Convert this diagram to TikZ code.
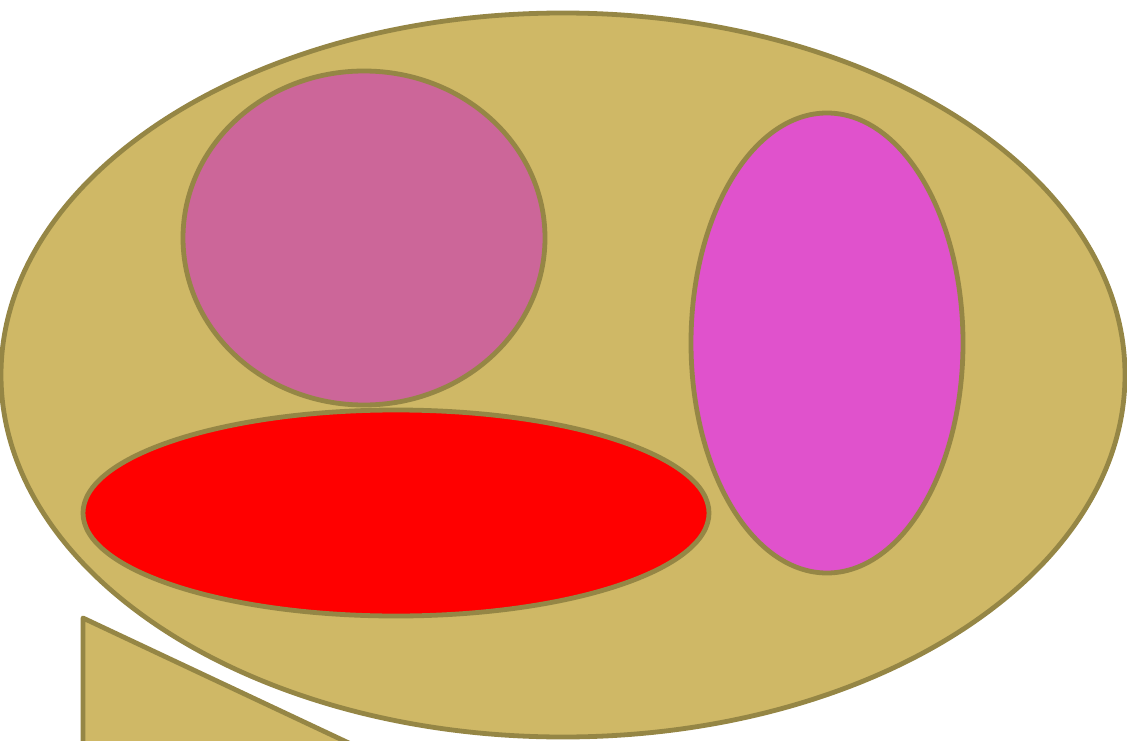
\documentclass[tikz,border=0pt]{standalone}
\usepackage{tikz}

\definecolor{tan}{HTML}{CFB866}
\definecolor{rim}{HTML}{958645}
\definecolor{rose}{HTML}{CC6699}
\definecolor{orchid}{HTML}{E052CC}

\begin{document}
\begin{tikzpicture}[
  x=1pt, y=-1pt,
  blob/.style={draw=rim, line width=4.8pt, line join=round},
]
\useasboundingbox (0,0) rectangle (1127,741);
\clip (0,0) rectangle (1127,741);

% face
\draw[blob, fill=tan] (563,375) ellipse [x radius=562, y radius=362];
% eyes
\draw[blob, fill=rose] (364,238) ellipse [x radius=181, y radius=167];
\draw[blob, fill=orchid] (827,343) ellipse [x radius=136, y radius=230];
% mouth
\draw[blob, fill=red] (396,513) ellipse [x radius=313, y radius=103];
% wedge
\draw[blob, fill=tan] (83,618) -- (83,800) -- (470,800) -- cycle;
\end{tikzpicture}
\end{document}
